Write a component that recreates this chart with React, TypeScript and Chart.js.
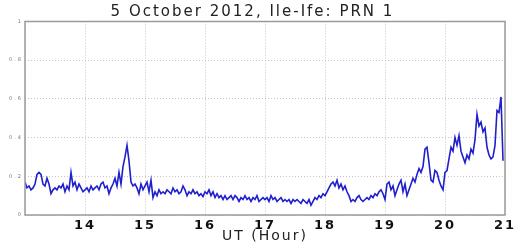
import React, { useEffect, useRef } from "react";
import { Chart, registerables } from "chart.js";

Chart.register(...registerables);

const TITLE = "5 October 2012, Ile-Ife: PRN 1";
const X_TITLE = "UT (Hour)";
const START_HOUR = 13;
const SAMPLES_PER_HOUR = 30; // 2-minute samples
const X_MIN = 13;
const X_MAX = 21;
const Y_TICKS = [0, 0.2, 0.4, 0.6, 0.8, 1];

const hour13 = [
  0.17, 0.14, 0.15, 0.13, 0.14, 0.16, 0.21, 0.22, 0.21, 0.16,
  0.15, 0.19, 0.16, 0.11, 0.13, 0.14, 0.13, 0.15, 0.14, 0.16,
  0.12, 0.15, 0.13, 0.22, 0.15, 0.17, 0.13, 0.16, 0.14, 0.12,
];
const hour14 = [
  0.13, 0.14, 0.12, 0.15, 0.13, 0.14, 0.15, 0.13, 0.16, 0.17,
  0.14, 0.15, 0.11, 0.14, 0.16, 0.19, 0.15, 0.22, 0.16, 0.25,
  0.30, 0.36, 0.28, 0.17, 0.15, 0.16, 0.14, 0.11, 0.16, 0.13,
];
const hour15 = [
  0.15, 0.17, 0.12, 0.18, 0.09, 0.12, 0.10, 0.13, 0.11, 0.12,
  0.11, 0.13, 0.12, 0.11, 0.14, 0.12, 0.13, 0.11, 0.12, 0.15,
  0.13, 0.10, 0.12, 0.11, 0.13, 0.11, 0.12, 0.10, 0.11, 0.095,
];
const hour16 = [
  0.12, 0.11, 0.13, 0.10, 0.12, 0.09, 0.11, 0.09, 0.10, 0.08,
  0.10, 0.08, 0.09, 0.10, 0.08, 0.10, 0.09, 0.07, 0.09, 0.08,
  0.10, 0.08, 0.09, 0.07, 0.09, 0.08, 0.10, 0.07, 0.08, 0.09,
];
const hour17 = [
  0.08, 0.09, 0.07, 0.10, 0.08, 0.09, 0.07, 0.08, 0.09, 0.07,
  0.08, 0.07, 0.08, 0.06, 0.08, 0.07, 0.08, 0.07, 0.06, 0.08,
  0.07, 0.06, 0.08, 0.05, 0.07, 0.09, 0.08, 0.10, 0.09, 0.11,
];
const hour18 = [
  0.10, 0.12, 0.14, 0.16, 0.17, 0.15, 0.18, 0.14, 0.16, 0.13,
  0.15, 0.12, 0.10, 0.07, 0.08, 0.07, 0.09, 0.10, 0.08, 0.07,
  0.08, 0.09, 0.08, 0.10, 0.09, 0.11, 0.10, 0.12, 0.13, 0.11,
];
const hour19 = [
  0.08, 0.16, 0.17, 0.13, 0.15, 0.10, 0.13, 0.16, 0.18, 0.12,
  0.16, 0.10, 0.13, 0.16, 0.19, 0.17, 0.21, 0.24, 0.22, 0.25,
  0.34, 0.35, 0.27, 0.18, 0.17, 0.23, 0.22, 0.18, 0.15, 0.13,
];
const hour20 = [
  0.22, 0.23, 0.29, 0.35, 0.33, 0.40, 0.36, 0.41, 0.33, 0.30,
  0.27, 0.31, 0.29, 0.34, 0.32, 0.39, 0.52, 0.46, 0.48, 0.43,
  0.45, 0.35, 0.31, 0.29, 0.30, 0.36, 0.54, 0.53, 0.61, 0.28,
];

const values = [...hour13, ...hour14, ...hour15, ...hour16, ...hour17, ...hour18, ...hour19, ...hour20];

const frame = {
  id: "frame",
  beforeDraw(chart: any) {
    chart.ctx.letterSpacing = "2px";
  },
  afterDraw(chart: any) {
    const { ctx, chartArea } = chart;
    ctx.letterSpacing = "0px";
    ctx.save();
    ctx.strokeStyle = "#9a9a9a";
    ctx.lineWidth = 1.5;
    ctx.strokeRect(chartArea.left, chartArea.top, chartArea.right - chartArea.left, chartArea.bottom - chartArea.top);
    ctx.restore();
  },
};

export default function App() {
  const ref = useRef<HTMLCanvasElement>(null);
  useEffect(() => {
    document.body.style.margin = "0";
    const points = values.map((v, i) => ({ x: START_HOUR + i / SAMPLES_PER_HOUR, y: v }));
    const chart = new Chart(ref.current!, {
      type: "line",
      data: {
        datasets: [
          {
            data: points,
            borderColor: "#1f1fcc",
            borderWidth: 1.6,
            pointRadius: 0,
            tension: 0,
            fill: false,
          },
        ],
      },
      plugins: [frame],
      options: {
        animation: false,
        responsive: false,
        maintainAspectRatio: false,
        layout: { padding: { left: 0, right: 20, top: 0, bottom: 0 } },
        plugins: {
          legend: { display: false },
          tooltip: { enabled: false },
          title: {
            display: true,
            text: TITLE,
            color: "#222",
            font: { family: "DejaVu Sans", size: 15, weight: "normal", lineHeight: 1.1 },
            padding: { top: 4, bottom: 1 },
          },
        },
        scales: {
          x: {
            type: "linear",
            min: X_MIN,
            max: X_MAX,
            ticks: {
              stepSize: 1,
              color: "#111",
              padding: 3,
              maxRotation: 0,
              font: { family: "DejaVu Sans", size: 13, weight: "bold" },
              callback: (v: any) => (v === X_MIN ? "" : String(v)),
            },
            grid: { color: "#c4c4c4", drawTicks: false },
            border: { display: false, dash: [1, 2] },
            title: {
              display: true,
              text: X_TITLE,
              color: "#222",
              font: { family: "DejaVu Sans", size: 14, weight: "normal", lineHeight: 1.1 },
              padding: { top: 0, bottom: 4 },
            },
            afterFit: (s: any) => {
              s.height = 33;
            },
          },
          y: {
            min: 0,
            max: 1,
            afterBuildTicks: (s: any) => {
              s.ticks = Y_TICKS.map((v) => ({ value: v }));
            },
            ticks: {
              color: "#777",
              padding: 2,
              font: { family: "DejaVu Sans", size: 5 },
              callback: (v: any) => String(v),
            },
            grid: { color: "#c4c4c4", drawTicks: false },
            border: { display: false, dash: [1, 2] },
            afterFit: (s: any) => {
              s.width = 25;
            },
          },
        },
      },
    });
    return () => chart.destroy();
  }, []);
  return (
    <div style={{ position: "absolute", left: 0, top: 0, width: 525, height: 248 }}>
      <canvas ref={ref} width={525} height={248} style={{ width: 525, height: 248 }} />
    </div>
  );
}
